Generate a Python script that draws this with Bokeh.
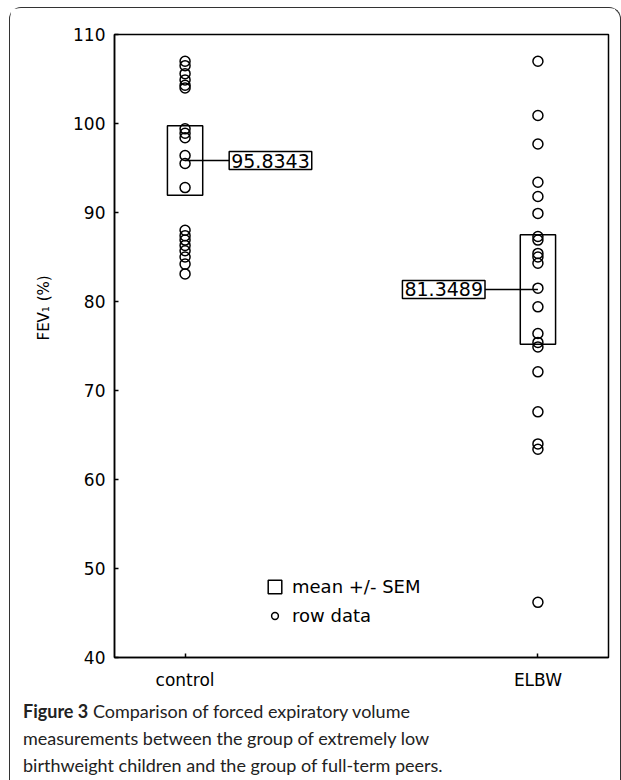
from bokeh.plotting import figure
from bokeh.layouts import column
from bokeh.models import (Label, Legend, LegendItem, FixedTicker, Range1d, ColumnDataSource,
                          Div, Title)
from bokeh.embed import file_html
from bokeh.resources import INLINE

# ---- data -------------------------------------------------------------
groups = ["control", "ELBW"]
group_pos = [1, 2]
control_values = [107.0, 106.5, 105.6, 104.9, 104.3, 104.0,
                  99.4, 98.9, 98.4, 96.4, 95.5, 92.8,
                  88.0, 87.4, 86.9, 86.3, 85.7, 85.0, 84.2, 83.1]
elbw_values = [107.0, 100.9, 97.7, 93.4, 91.8, 89.9, 87.3, 86.9, 85.4, 85.0,
               84.3, 81.5, 79.4, 76.4, 75.4, 74.9, 72.1, 67.6, 64.0, 63.4, 46.2]
means = [95.8343, 81.3489]
sems = [3.9, 6.15]
y_ticks = [40, 50, 60, 70, 80, 90, 100, 110]
y_title = "FEV\u2081 (%)"
caption_bold = "Figure 3"
caption_lines = ["Comparison of forced expiratory volume",
                 "measurements between the group of extremely low",
                 "birthweight children and the group of full-term peers."]

FONT = "DejaVu Sans"
CAP_FONT = "Lato"

p = figure(width=605, height=685, x_range=Range1d(0.8, 2.2), y_range=Range1d(40, 110),
           output_backend="svg", toolbar_location=None,
           min_border_left=104, min_border_right=7, min_border_top=26, min_border_bottom=36)

p.xgrid.visible = False
p.ygrid.visible = False
p.outline_line_color = "black"
p.outline_line_width = 1.5

for ax in (p.xaxis[0], p.yaxis[0]):
    ax.axis_line_width = 1.5
    ax.major_tick_in = 4
    ax.major_tick_out = 0
    ax.major_tick_line_width = 1.5
    ax.minor_tick_line_color = None
    ax.major_label_text_font = FONT
    ax.major_label_text_font_size = "17px"
    ax.major_label_text_color = "black"

p.xaxis.ticker = FixedTicker(ticks=group_pos)
p.xaxis.major_label_overrides = {pos: g for pos, g in zip(group_pos, groups)}
p.xaxis.major_label_standoff = 12
p.yaxis.ticker = FixedTicker(ticks=y_ticks)
p.yaxis.major_label_standoff = 9

# y-axis title, anchored at the bottom of the frame and shifted up to sit near 80
p.add_layout(Title(text=y_title, align="left", offset=317, standoff=35,
                   text_font=FONT, text_font_size="15px", text_font_style="normal",
                   text_color="black"), "left")

# mean +/- SEM boxes
box_src = ColumnDataSource(dict(x=group_pos, y=means, h=[2 * s for s in sems]))
rect_r = p.rect(x="x", y="y", width=0.1, height="h", source=box_src,
                fill_color=None, line_color="black", line_width=1.5)

# connector lines from mean to value label
label_offsets = [0.125, -0.15]
edge_x = [g + o for g, o in zip(group_pos, label_offsets)]
p.segment(x0=group_pos, y0=means, x1=edge_x, y1=means, line_color="black", line_width=1.5)

# raw data points
xs = [group_pos[0]] * len(control_values) + [group_pos[1]] * len(elbw_values)
ys = control_values + elbw_values
pts_r = p.scatter(x=xs, y=ys, marker="circle", size=10, fill_color=None,
                  line_color="black", line_width=1.5)

# value labels
for ex, m, align in zip(edge_x, means, ["left", "right"]):
    p.add_layout(Label(x=ex, y=m, text=f"{m:.4f}", text_align=align, text_baseline="middle",
                       text_font=FONT, text_font_size="19px", text_color="black",
                       border_line_color="black", border_line_width=1.5,
                       background_fill_color="white", padding=2))

legend = Legend(items=[LegendItem(label="mean +/- SEM", renderers=[rect_r]),
                       LegendItem(label="row data", renderers=[pts_r])],
                location=(152, 31), orientation="vertical",
                border_line_color=None, background_fill_alpha=0,
                glyph_width=17, glyph_height=17, label_height=17,
                spacing=8, padding=0, margin=0, label_standoff=9,
                label_text_font=FONT, label_text_font_size="18px",
                label_text_color="black")
p.add_layout(legend)

# caption below the chart
caption_html = ('<div style="font-family:Lato;font-size:18px;line-height:27px;'
                'color:#222;padding:0 0 0 8px;margin:0">'
                "<b>" + caption_bold + "</b> " + "<br>".join(caption_lines) + "</div>")
cap = Div(text=caption_html, width=600, height=86)

layout = column(p, cap, spacing=0,
                styles={"margin": "7px 0 0 9px", "border": "1.5px solid #333",
                        "border-bottom": "none", "border-radius": "12px 12px 0 0"})

open("out.html", "w").write(file_html(layout, INLINE))
